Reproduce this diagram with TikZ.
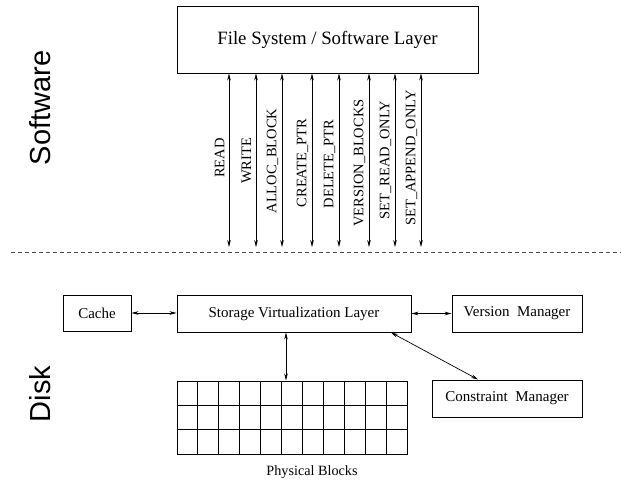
\documentclass[tikz,border=0pt]{standalone}
\usepackage{fontspec}
\setmainfont{Liberation Serif}
\newfontfamily\helv{Liberation Sans}
\usetikzlibrary{arrows.meta,calc}
\begin{document}
\begin{tikzpicture}[x=1pt,y=-1pt,
  box/.style={draw,line width=1pt,inner sep=0pt,font=\fontsize{15}{17}\selectfont},
  lbl/.style={rotate=90,inner sep=0pt,font=\fontsize{14.5}{16}\selectfont},
  dbl/.style={{Stealth[length=7pt,width=3.6pt]}-{Stealth[length=7pt,width=3.6pt]},line width=0.7pt},
  side/.style={rotate=90,inner sep=0pt,font=\helv\fontsize{29}{32}\selectfont}]
\useasboundingbox (0,0) rectangle (621,482);
% top box
\node[box,minimum width=301pt,minimum height=67pt,font=\fontsize{18.8}{21}\selectfont] (fs) at (327.5,39.5) {File System / Software Layer};
% side titles
\node[side] (sw) at (40,108) {Software};
\node[side] (dk) at (40,394) {Disk};
% dashed separator
\coordinate (dl) at (11,252);
\coordinate (dr) at (621,252);
\draw[dashed,dash pattern=on 4pt off 3pt,line width=0.8pt,black!70] (dl) -- (dr);
% command arrows
\foreach \x/\yc/\t [count=\i] in {229/158/READ,256/161/WRITE,282/161/ALLOC\_BLOCK,312/163/CREATE\_PTR,339/164/DELETE\_PTR,369/163/VERSION\_BLOCKS,395/160/SET\_READ\_ONLY,421/158/SET\_APPEND\_ONLY}{
  \coordinate (e\i) at (\x,247);
  \draw[dbl] (e\i |- fs.south) -- (e\i);
  \node[lbl] (l\i) at (\x-9.5,\yc) {\t};
}
% bottom boxes
\node[box,minimum width=68pt,minimum height=36pt] (cache) at (97,313) {Cache};
\node[box,minimum width=234pt,minimum height=37pt] (svl) at (294,313.5) {Storage Virtualization Layer};
\node[box,minimum width=130pt,minimum height=37pt] (vm) at (517,313.5) {Version\ \ Manager};
\node[box,minimum width=150pt,minimum height=37pt] (cm) at (507,398.5) {Constraint\ \ Manager};
% grid
\node[draw,line width=1pt,minimum width=230pt,minimum height=73pt,inner sep=0pt] (grid) at (292,417.5) {};
\foreach \k in {1,...,10}{
  \draw[line width=0.9pt] ($(grid.north west)!\k/11!(grid.north east)$) -- ($(grid.south west)!\k/11!(grid.south east)$);
}
\foreach \k in {1,2}{
  \draw[line width=0.9pt] ($(grid.north west)!\k/3!(grid.south west)$) -- ($(grid.north east)!\k/3!(grid.south east)$);
}
\node[inner sep=0pt,font=\fontsize{14.2}{16}\selectfont] (pb) at (312,472) {Physical Blocks};
% connectors
\draw[dbl] (cache.east) -- (svl.west |- cache.east);
\draw[dbl] (svl.east) -- (vm.west |- svl.east);
\coordinate (vx) at (286,0);
\draw[dbl] (vx |- svl.south) -- (vx |- grid.north);
\coordinate (d1) at (391,332);
\coordinate (d2) at (478,380);
\draw[dbl] (d1 |- svl.south) -- (d2 |- cm.north);
\end{tikzpicture}
\end{document}
